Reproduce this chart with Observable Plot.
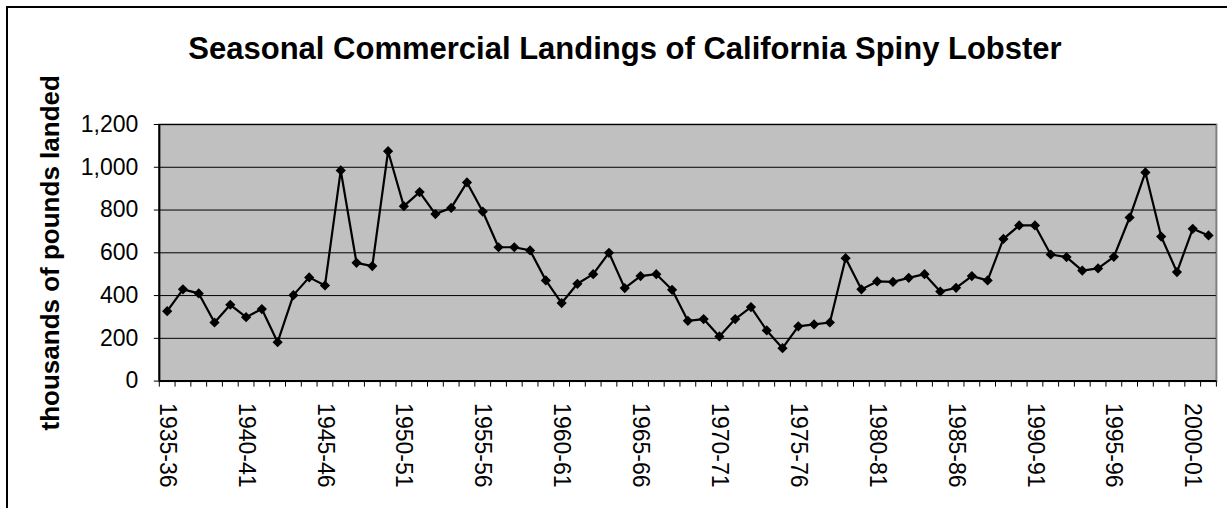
<!DOCTYPE html>
<html>
<head>
<meta charset="utf-8">
<script src="https://cdn.jsdelivr.net/npm/d3@7"></script>
<script src="https://cdn.jsdelivr.net/npm/@observablehq/plot@0.6"></script>
<style>
  html, body { margin: 0; padding: 0; background: #fff; }
  #wrap { position: relative; width: 1227px; height: 508px; overflow: hidden; font-family: "Liberation Sans", Arial, sans-serif; }
  #box { position: absolute; left: 6px; top: 6px; width: 2000px; height: 2000px; border-top: 2px solid #000; border-left: 2px solid #000; }
  #title { position: absolute; left: 0; top: 33px; width: 1250px; text-align: center; font-weight: bold; font-size: 31px; line-height: 31px; color: #000; }
  #chart { position: absolute; left: 0; top: 0; }
</style>
</head>
<body>
<div id="wrap">
  <div id="box"></div>
  <div id="chart"></div>
  <div id="title">Seasonal Commercial Landings of California Spiny Lobster</div>
</div>
<script>
// Fishing seasons, 1935-36 through 2001-02
const seasons = [
  "1935-36","1936-37","1937-38","1938-39","1939-40","1940-41","1941-42","1942-43","1943-44","1944-45",
  "1945-46","1946-47","1947-48","1948-49","1949-50","1950-51","1951-52","1952-53","1953-54","1954-55",
  "1955-56","1956-57","1957-58","1958-59","1959-60","1960-61","1961-62","1962-63","1963-64","1964-65",
  "1965-66","1966-67","1967-68","1968-69","1969-70","1970-71","1971-72","1972-73","1973-74","1974-75",
  "1975-76","1976-77","1977-78","1978-79","1979-80","1980-81","1981-82","1982-83","1983-84","1984-85",
  "1985-86","1986-87","1987-88","1988-89","1989-90","1990-91","1991-92","1992-93","1993-94","1994-95",
  "1995-96","1996-97","1997-98","1998-99","1999-00","2000-01","2001-02"
];

// Commercial landings, thousands of pounds
const landings = [
  327, 429, 410, 274, 357, 299, 337, 182, 402, 485,
  447, 985, 553, 538, 1075, 818, 884, 781, 810, 929,
  793, 626, 626, 611, 471, 365, 455, 500, 600, 435,
  491, 500, 427, 282, 290, 209, 290, 346, 237, 154,
  256, 265, 274, 575, 429, 466, 464, 483, 500, 419,
  436, 491, 471, 665, 728, 728, 592, 580, 517, 527,
  581, 765, 976, 676, 510, 712, 681
];

// Every fifth season gets a label
const labeledSeasons = [
  "1935-36","1940-41","1945-46","1950-51","1955-56","1960-61","1965-66",
  "1970-71","1975-76","1980-81","1985-86","1990-91","1995-96","2000-01"
];

const yTicks = [0, 200, 400, 600, 800, 1000, 1200];
const yLabel = "thousands of pounds landed";

const data = seasons.map((s, i) => ({i, season: s, value: landings[i]}));
const labelIdx = labeledSeasons.map(s => seasons.indexOf(s));
const boundaries = d3.range(seasons.length + 1).map(k => k - 0.5);

const chart = Plot.plot({
  width: 1227,
  height: 508,
  marginLeft: 158.8,
  marginRight: 11.1,
  marginTop: 124,
  marginBottom: 127.4,
  style: {fontFamily: "'Liberation Sans', Arial, sans-serif", fontSize: "22px", background: "transparent", color: "#000"},
  x: {type: "linear", domain: [-0.5, seasons.length - 0.5], axis: null},
  y: {domain: [0, 1200], axis: null},
  marks: [
    Plot.frame({fill: "#c0c0c0", stroke: "#808080", strokeWidth: 2}),
    Plot.gridY(yTicks, {stroke: "#000", strokeOpacity: 1, strokeWidth: 1}),
    Plot.ruleY([0], {stroke: "#000", strokeWidth: 2}),
    Plot.ruleX([-0.5], {stroke: "#000", strokeWidth: 2}),
    Plot.axisY({ticks: yTicks, tickFormat: d3.format(","), tickSize: 5, tickPadding: 16, fontSize: 23, label: null, stroke: "#000"}),
    Plot.axisX({ticks: boundaries, tickSize: 6, tickFormat: () => "", label: null, stroke: "#000"}),
    Plot.axisX({ticks: labelIdx, tickSize: 0, tickRotate: 90, tickPadding: 22, tickFormat: i => seasons[i], fontSize: 23, label: null}),
    Plot.text([yLabel], {frameAnchor: "left", textAnchor: "middle", rotate: -90, dx: -109, text: d => d, fontWeight: "bold", fontSize: 26, fill: "#000"}),
    Plot.line(data, {x: "i", y: "value", stroke: "#000", strokeWidth: 2.2}),
    Plot.dot(data, {x: "i", y: "value", symbol: "diamond2", r: 4.6, fill: "#000", stroke: "none"})
  ]
});

document.getElementById("chart").appendChild(chart);
</script>
</body>
</html>
